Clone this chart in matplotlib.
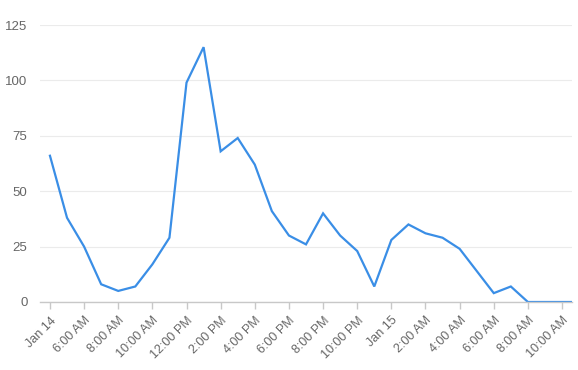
import numpy as np
import pandas as pd
import matplotlib
matplotlib.use('Agg')
import matplotlib.pyplot as plt
import matplotlib.dates as mdates

plt.rcParams['font.family'] = ['Liberation Sans', 'DejaVu Sans']

# hourly readings, starting 4 AM Jan 14
start = '2024-01-14 04:00'
values = [66, 38, 25, 8, 5, 7, 17, 29, 99, 115, 68, 74, 62, 41, 30, 26,
          40, 30, 23, 7, 28, 35, 31, 29, 24, 14, 4, 7, 0, 0, 0, 0]
times = pd.date_range(start, periods=len(values), freq='h')

tick_times = pd.date_range(start, periods=16, freq='2h')
tick_labels = ['Jan 14', '6:00 AM', '8:00 AM', '10:00 AM', '12:00 PM', '2:00 PM',
               '4:00 PM', '6:00 PM', '8:00 PM', '10:00 PM', 'Jan 15', '2:00 AM',
               '4:00 AM', '6:00 AM', '8:00 AM', '10:00 AM']
y_ticks = [0, 25, 50, 75, 100, 125]

fig = plt.figure(figsize=(5.78, 3.70), dpi=100)
ax = fig.add_axes([40/578, 1 - 302/370, 532/578, 277/370])

ax.plot(times, values, color='#3a8ee6', lw=1.6, solid_joinstyle='miter', clip_on=True)

ax.set_xlim(times[0] - pd.Timedelta(minutes=35), tick_times[-1] + pd.Timedelta(minutes=35))
ax.set_ylim(0, 125)

ax.set_xticks(tick_times)
ax.set_xticklabels(tick_labels, rotation=45, ha='right', rotation_mode='anchor')
ax.set_yticks(y_ticks)

ax.grid(axis='y', color='#ebebeb', lw=0.8)
ax.set_axisbelow(True)
for s in ['top', 'right', 'left']:
    ax.spines[s].set_visible(False)
ax.spines['bottom'].set_color('#c8c8c8')
ax.spines['bottom'].set_linewidth(1)

ax.tick_params(axis='x', colors='#c8c8c8', length=5, width=1, labelcolor='#666666',
               labelsize=9, pad=4)
ax.tick_params(axis='y', length=0, labelcolor='#666666', labelsize=9.5, pad=9)

fig.savefig('out.png', dpi=100)
